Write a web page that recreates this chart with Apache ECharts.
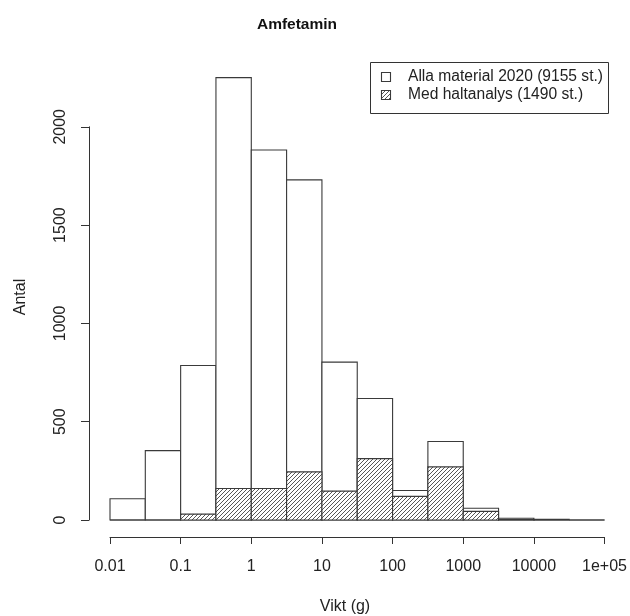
<!DOCTYPE html>
<html>
<head>
<meta charset="utf-8">
<script src="https://cdn.jsdelivr.net/npm/echarts@6/dist/echarts.min.js"></script>
<style>
  html, body { margin: 0; padding: 0; background: #fff; }
  #chart { width: 630px; height: 616px; }
</style>
</head>
<body>
<div id="chart"></div>
<script>
// Half-decade bin edges for weight (g)
const binEdges = [0.01, 0.0316, 0.1, 0.316, 1, 3.16, 10, 31.6, 100, 316, 1000, 3162, 10000, 31623, 100000];
// Seizure counts per bin, all material 2020
const allCounts = [108, 353, 786, 2250, 1882, 1730, 803, 618, 150, 399, 60, 9, 4, 0];
// Seizure counts per bin with purity analysis
const analysedCounts = [0, 0, 30, 160, 160, 245, 147, 312, 120, 270, 44, 2, 0, 0];
// Tick labels for the log weight axis (10^-2 .. 10^5)
const xTickLabels = ['0.01', '0.1', '1', '10', '100', '1000', '10000', '1e+05'];
const yTicks = [0, 500, 1000, 1500, 2000];
const legendLabels = ['Alla material 2020 (9155 st.)', 'Med haltanalys (1490 st.)'];

const FONT = "'Liberation Sans', Arial, sans-serif";
const TEXT = '#222';
const EDGE = '#3a3a3a';

// Diagonal hatching tile
function hatchCanvas() {
  const c = document.createElement('canvas');
  c.width = 4; c.height = 4;
  const ctx = c.getContext('2d');
  ctx.fillStyle = '#ffffff';
  ctx.fillRect(0, 0, 4, 4);
  ctx.strokeStyle = '#444';
  ctx.lineWidth = 0.9;
  ctx.beginPath();
  ctx.moveTo(-1, 5); ctx.lineTo(5, -1);
  ctx.moveTo(-1, 1); ctx.lineTo(1, -1);
  ctx.moveTo(3, 5); ctx.lineTo(5, 3);
  ctx.stroke();
  return c;
}
const hatchFill = { image: hatchCanvas(), repeat: 'repeat' };

function binData(counts) {
  return counts.map((v, i) => [binEdges[i], binEdges[i + 1], v]);
}

function makeRender(fill) {
  return function (params, api) {
    const p0 = api.coord([api.value(0), api.value(2)]);
    const p1 = api.coord([api.value(1), 0]);
    return {
      type: 'rect',
      shape: { x: p0[0], y: p0[1], width: p1[0] - p0[0], height: p1[1] - p0[1] },
      style: { fill: fill, stroke: EDGE, lineWidth: 1.1 }
    };
  };
}

const chart = echarts.init(document.getElementById('chart'), null, { renderer: 'canvas' });

const option = {
  animation: false,
  backgroundColor: '#ffffff',
  grid: [
    { left: 110, right: 23, top: 28.5, bottom: 96 },
    { left: 110, right: 23, top: 126.8, bottom: 96 }
  ],
  xAxis: [
    {
      type: 'log', logBase: 10, min: 0.01, max: 100000, gridIndex: 0,
      position: 'bottom', offset: 17,
      axisLine: { show: true, onZero: false, lineStyle: { color: '#333', width: 1 } },
      axisTick: { show: true, length: 7, lineStyle: { color: '#333' } },
      splitLine: { show: false },
      minorTick: { show: false },
      axisLabel: {
        margin: 22, color: TEXT, fontSize: 16, fontFamily: FONT,
        showMinLabel: true, showMaxLabel: true,
        formatter: v => xTickLabels[Math.round(Math.log10(v)) + 2]
      }
    },
    { type: 'value', gridIndex: 1, show: false, min: 0, max: 1 }
  ],
  yAxis: [
    { type: 'value', gridIndex: 0, min: 0, max: 2500, show: false },
    {
      type: 'value', gridIndex: 1, min: 0, max: 2000, interval: 500,
      position: 'left', offset: 21,
      axisLine: { show: true, onZero: false, lineStyle: { color: '#333', width: 1 } },
      axisTick: { show: true, length: 8, lineStyle: { color: '#333' } },
      splitLine: { show: false },
      axisLabel: {
        rotate: 90, margin: 20, color: TEXT, fontSize: 16, fontFamily: FONT,
        formatter: v => (yTicks.indexOf(v) >= 0 ? String(v) : '')
      }
    }
  ],
  series: [
    {
      type: 'custom', name: legendLabels[0], xAxisIndex: 0, yAxisIndex: 0,
      renderItem: makeRender('#ffffff'),
      encode: { x: [0, 1], y: 2 },
      data: binData(allCounts)
    },
    {
      type: 'custom', name: legendLabels[1], xAxisIndex: 0, yAxisIndex: 0,
      renderItem: makeRender(hatchFill),
      encode: { x: [0, 1], y: 2 },
      data: binData(analysedCounts)
    }
  ],
  graphic: [
    {
      type: 'text', x: 297, y: 25,
      style: { text: 'Amfetamin', font: "bold 15.5px " + FONT, fill: '#111', align: 'center', verticalAlign: 'middle' }
    },
    {
      type: 'text', x: 345, y: 607,
      style: { text: 'Vikt (g)', font: "16px " + FONT, fill: TEXT, align: 'center', verticalAlign: 'middle' }
    },
    {
      type: 'text', x: 21, y: 297, rotation: Math.PI / 2,
      style: { text: 'Antal', font: "16px " + FONT, fill: TEXT, align: 'center', verticalAlign: 'middle' }
    },
    // legend
    {
      type: 'rect', shape: { x: 370.5, y: 62.5, width: 238, height: 51 },
      style: { fill: '#fff', stroke: '#333', lineWidth: 1 }
    },
    {
      type: 'rect', shape: { x: 381.5, y: 72.5, width: 9, height: 9 },
      style: { fill: '#fff', stroke: EDGE, lineWidth: 1.1 }
    },
    {
      type: 'rect', shape: { x: 381.5, y: 90.5, width: 9, height: 9 },
      style: { fill: hatchFill, stroke: EDGE, lineWidth: 1.1 }
    },
    {
      type: 'text', x: 408, y: 77,
      style: { text: legendLabels[0], font: "15.6px " + FONT, fill: TEXT, verticalAlign: 'middle' }
    },
    {
      type: 'text', x: 408, y: 95,
      style: { text: legendLabels[1], font: "15.6px " + FONT, fill: TEXT, verticalAlign: 'middle' }
    }
  ]
};

chart.setOption(option);
</script>
</body>
</html>
